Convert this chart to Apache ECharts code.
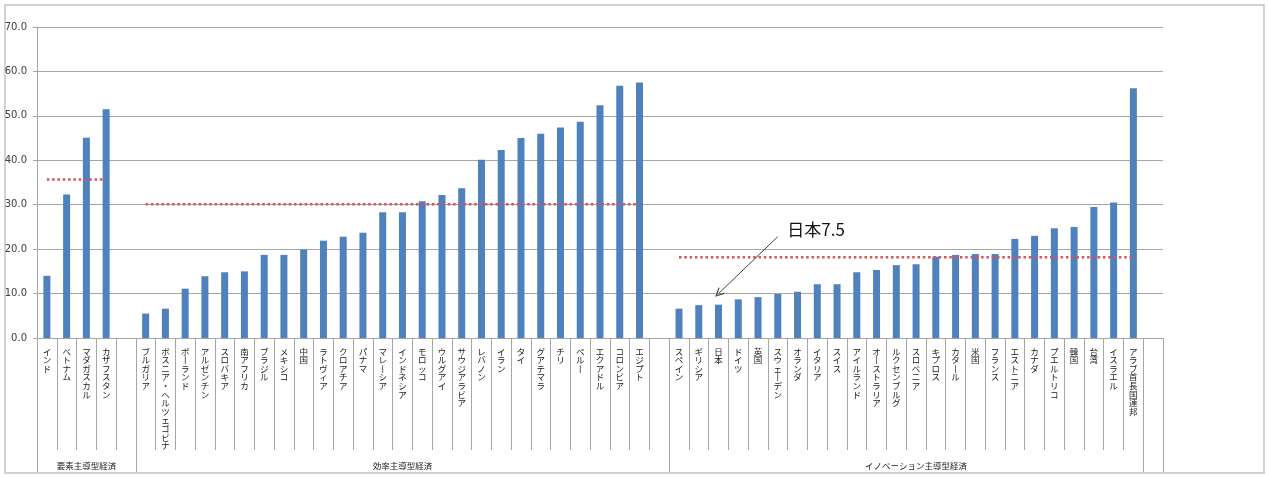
<!DOCTYPE html>
<html>
<head>
<meta charset="utf-8">
<title>chart</title>
<script src="https://cdn.jsdelivr.net/npm/echarts@6/dist/echarts.min.js"></script>
<style>
html,body{margin:0;padding:0;background:#fff;}
#echart{width:1269px;height:477px;}
</style>
</head>
<body>
<div id="echart"></div>
<script>
// 要素主導型経済
var factorNames = ['インド','ベトナム','マダガスカル','カザフスタン'];
var factorValues = [14.0,32.3,45.1,51.5];
// 効率主導型経済
var efficiencyNames = ['ブルガリア','ボスニア・ヘルツェゴビナ','ポーランド','アルゼンチン','スロバキア','南アフリカ','ブラジル','メキシコ','中国','ラトヴィア','クロアチア','パナマ','マレーシア','インドネシア','モロッコ','ウルグアイ','サウジアラビア','レバノン','イラン','タイ','グアテマラ','チリ','ペルー','エクアドル','コロンビア','エジプト'];
var efficiencyValues = [5.5,6.6,11.1,13.9,14.8,15.0,18.7,18.7,19.9,21.9,22.8,23.7,28.3,28.3,30.8,32.2,33.7,40.1,42.3,45.0,46.0,47.4,48.7,52.4,56.8,57.5];
// イノベーション主導型経済
var innovationNames = ['スペイン','ギリシア','日本','ドイツ','英国','スウェーデン','オランダ','イタリア','スイス','アイルランド','オーストラリア','ルクセンブルグ','スロベニア','キプロス','カタール','米国','フランス','エストニア','カナダ','プエルトリコ','韓国','台湾','イスラエル','アラブ首長国連邦'];
var innovationValues = [6.6,7.4,7.5,8.7,9.2,9.9,10.4,12.1,12.1,14.8,15.3,16.4,16.6,18.3,18.7,18.9,18.9,22.3,23.0,24.7,25.0,29.5,30.5,56.2];

var groupLabels = ['要素主導型経済','効率主導型経済','イノベーション主導型経済'];
var groupAverages = [35.7,30.1,18.2];

var yMin = 0, yMax = 70, yStep = 10;

// 日本の注記
var noteName = '日本';
var noteValue = 7.5;

/*********************************カテゴリ組み立て************************************/
var groupNames = [factorNames, efficiencyNames, innovationNames];
var groupValues = [factorValues, efficiencyValues, innovationValues];

var categories = [];
var barData = [];
var groupAxis = [];
var bounds = [];
var avgData = [[],[],[]];

function buildCategories(){
	for(var g=0; g<groupNames.length; g++){
		var start = categories.length;
		bounds.push(start);
		for(var i=0; i<groupNames[g].length; i++){
			categories.push(groupNames[g][i]);
			barData.push(groupValues[g][i]);
		}
		categories.push('#blank' + g);   // 空き列
		barData.push('-');
		var len = groupNames[g].length + 1;
		for(var k=0; k<len; k++){
			groupAxis.push(k == Math.floor(len/2) ? groupLabels[g] : '#g' + start + '_' + k);
		}
	}
	bounds.push(categories.length - 1);
	for(var s=0; s<groupNames.length; s++){
		for(var c=0; c<categories.length; c++){
			var inGroup = c >= bounds[s] && c < bounds[s] + groupNames[s].length;
			avgData[s].push(inGroup ? groupAverages[s] : '-');
		}
	}
}

function verticalText(v){
	if(v.charAt(0) == '#') return '';
	return v.replace(/ー/g,'丨').split('').join('\n');
}

function plainText(v){
	if(v.charAt(0) == '#') return '';
	return v;
}

/**************************************echart************************************/
function showEchart(){
	buildCategories();
	var myChart = echarts.init(document.getElementById('echart'));
	var gray = '#a6a6a6';
	var avgSeries = [];
	for(var s=0; s<avgData.length; s++){
		avgSeries.push({
			name: groupLabels[s],
			type: 'line',
			data: avgData[s],
			symbol: 'none',
			silent: true,
			z: 3,
			lineStyle: {color:'#d4545a', width:2.5, type:[2.5,2.8]}
		});
	}
	var option = {
		animation: false,
		textStyle: {fontFamily:'"Noto Sans CJK JP", sans-serif'},
		grid: {left:37, right:106, top:27, bottom:139, containLabel:false},
		graphic: [{
			type: 'rect',
			shape: {x:5, y:5, width:1259, height:468},
			style: {fill:null, stroke:'#c4c4c4', lineWidth:1.5},
			silent: true
		}],
		xAxis: [{
			type: 'category',
			data: categories,
			position: 'bottom',
			axisLine: {show:true, lineStyle:{color:gray, width:1}},
			axisTick: {show:true, interval:0, length:112, lineStyle:{color:gray, width:1}},
			axisLabel: {
				interval: 0, margin: 9, fontSize: 8.5, lineHeight: 8.6,
				color: '#1a1a1a', formatter: verticalText
			},
			splitLine: {show:false}
		},{
			type: 'category',
			data: groupAxis,
			position: 'bottom',
			offset: 0,
			axisLine: {show:false},
			axisTick: {show:true, length:134, lineStyle:{color:gray, width:1},
				interval: function(index){ return bounds.indexOf(index) >= 0; }},
			axisLabel: {interval:0, margin:124, fontSize:8.5, color:'#1a1a1a', formatter: plainText},
			splitLine: {show:false}
		}],
		yAxis: {
			type: 'value',
			min: yMin, max: yMax, interval: yStep,
			axisLine: {show:true, lineStyle:{color:gray, width:1}},
			axisTick: {show:true, length:4, lineStyle:{color:gray}},
			axisLabel: {
				margin: 10, fontSize: 10, color: '#404040',
				fontFamily: '"DejaVu Sans", sans-serif',
				formatter: function(v){ return v.toFixed(1); }
			},
			splitLine: {lineStyle:{color:gray, width:1.2}}
		},
		series: [{
			type: 'bar',
			data: barData,
			barWidth: 7,
			itemStyle: {color:'#4f81bd'},
			z: 2,
			markLine: {
				silent: true,
				symbol: ['none','path://M0,10 L5,0 L10,10 L8.6,10 L5,2.8 L1.4,10 Z'],
				symbolSize: [9,9],
				lineStyle: {color:'#404040', type:'solid', width:1},
				label: {show:false},
				data: [[{coord:['スウェーデン',22.8]},{coord:[noteName,10.0]}]]
			},
			markPoint: {
				silent: true,
				symbol: 'circle',
				symbolSize: 1,
				itemStyle: {color:'rgba(0,0,0,0)'},
				label: {
					show: true, position: 'right', distance: 9,
					fontSize: 17, color: '#111',
					formatter: noteName + noteValue
				},
				data: [{coord:['スウェーデン',24.3]}]
			}
		}].concat(avgSeries)
	};
	myChart.setOption(option);
}

showEchart();
</script>
</body>
</html>
